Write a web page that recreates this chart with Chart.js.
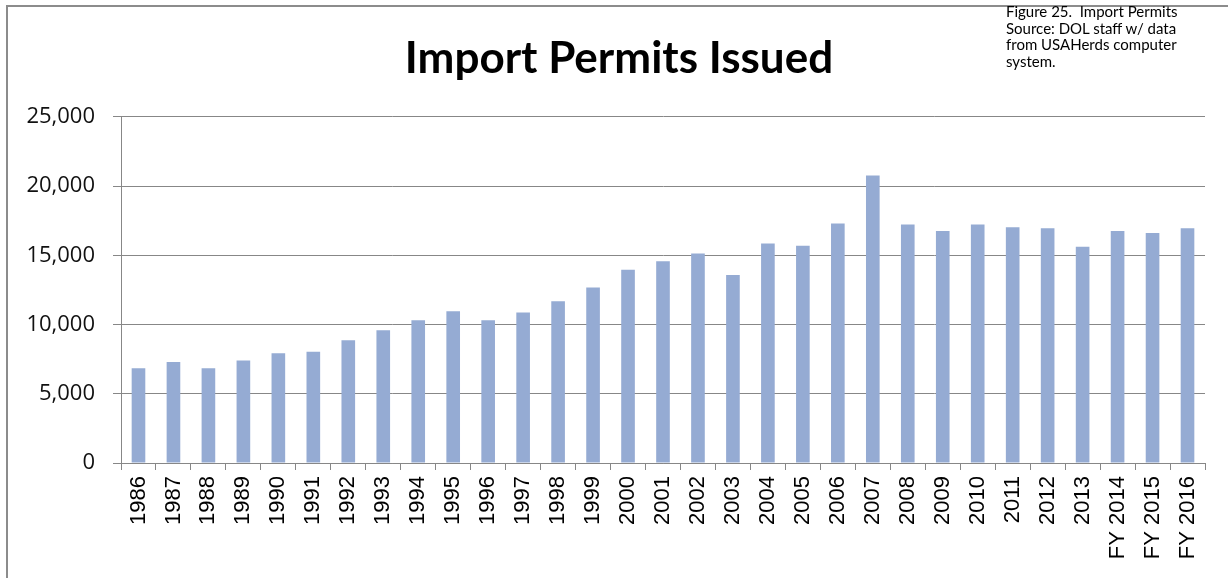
<!DOCTYPE html>
<html>
<head>
<meta charset="utf-8">
<script src="https://cdn.jsdelivr.net/npm/chart.js@4/dist/chart.umd.min.js"></script>
<style>
  html, body { margin: 0; padding: 0; background: #fff; }
  #wrap { position: relative; width: 1228px; height: 578px; overflow: hidden; }
  #frame { position: absolute; left: 6px; top: 5px; width: 1300px; height: 700px;
           border-left: 2px solid #8c8c8c; border-top: 2px solid #8c8c8c; }
  #note { position: absolute; left: 1006px; top: 3px; font: 15px 'Lato', sans-serif;
          line-height: 16.5px; color: #000; }
  canvas { position: absolute; left: 0; top: 0; }
</style>
</head>
<body>
<div id="wrap">
  <div id="frame"></div>
  <canvas id="myChart" width="1238" height="578"></canvas>
  <div id="note">Figure 25.&nbsp; Import Permits<br>Source: DOL staff w/ data<br>from USAHerds computer<br>system.</div>
</div>
<script>
// 연도 (카테고리)
const years = [
  '1986', '1987', '1988', '1989', '1990', '1991', '1992', '1993', '1994', '1995',
  '1996', '1997', '1998', '1999', '2000', '2001', '2002', '2003', '2004', '2005',
  '2006', '2007', '2008', '2009', '2010', '2011', '2012', '2013',
  'FY 2014', 'FY 2015', 'FY 2016'
];
// 발급된 수입 허가 수
const permits = [
  6850, 7300, 6850, 7400, 7930, 8040, 8870, 9590, 10310, 10960,
  10310, 10860, 11680, 12670, 13950, 14570, 15130, 13580, 15850, 15680,
  17290, 20760, 17220, 16760, 17220, 17030, 16960, 15610,
  16760, 16600, 16960
];
const yTicks = [0, 5000, 10000, 15000, 20000, 25000];

const gridGrey = '#878787';

const data = {
  labels: years,
  datasets: [{
    label: 'Import Permits Issued',
    data: permits,
    backgroundColor: '#95abd3',
    categoryPercentage: 1,
    barPercentage: 0.39
  }]
};

const config = {
  type: 'bar',
  data,
  options: {
    responsive: false,
    animation: false,
    layout: { padding: 0 },
    plugins: {
      legend: { display: false },
      tooltip: { enabled: false },
      title: {
        display: true,
        text: 'Import Permits Issued',
        color: '#000',
        font: { family: 'Lato', size: 44, weight: 'bold' },
        padding: { top: 32, bottom: 32 }
      }
    },
    scales: {
      x: {
        grid: { drawOnChartArea: false, color: gridGrey, tickLength: 7, offset: true },
        border: { color: gridGrey, width: 1 },
        ticks: {
          color: '#000',
          font: { family: 'Liberation Sans', size: 22 },
          minRotation: 90,
          maxRotation: 90,
          padding: 6,
          autoSkip: false
        },
        afterFit: s => { s.height = 115; }
      },
      y: {
        min: yTicks[0],
        max: yTicks[yTicks.length - 1],
        afterBuildTicks: s => { s.ticks = yTicks.map(v => ({ value: v })); },
        grid: { color: gridGrey, tickLength: 8 },
        border: { color: gridGrey, width: 1 },
        ticks: {
          color: '#111',
          font: { family: 'Open Sans', size: 22 },
          padding: 18,
          callback: v => v.toLocaleString('en-US')
        },
        afterFit: s => { s.width = 121; }
      },
      // 오른쪽 빈 공간 (보이지 않는 축)
      pad: {
        type: 'linear',
        position: 'right',
        grid: { display: false },
        border: { display: false },
        ticks: { display: false },
        afterFit: s => { s.width = 33; }
      }
    }
  }
};

var myChart = new Chart(document.getElementById('myChart'), config);
</script>
</body>
</html>
